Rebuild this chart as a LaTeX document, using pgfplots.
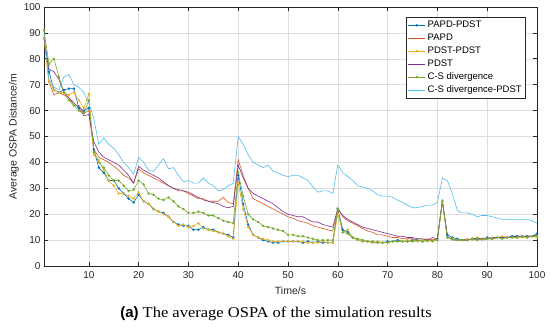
\documentclass[border=0pt]{standalone}
\usepackage{pgfplots}
\pgfplotsset{compat=1.18}
\usepackage{pgfplotstable}
\usepackage{fontspec}
\setmainfont{Liberation Sans}
\newfontfamily\capfont[FakeStretch=1.1]{Liberation Serif}
\newfontfamily\capsans{Liberation Sans}
\definecolor{mblue}{RGB}{0,114,189}
\definecolor{mred}{RGB}{217,83,25}
\definecolor{myellow}{RGB}{237,177,32}
\definecolor{mpurple}{RGB}{126,47,142}
\definecolor{mgreen}{RGB}{119,172,48}
\definecolor{mcyan}{RGB}{77,190,238}
\definecolor{axgray}{RGB}{38,38,38}
\definecolor{gridgray}{RGB}{222,222,222}
\pgfplotstableread{
t A B C D E F
1 88 88 88 88 91 90
2 75 71 71 76 78 72
3 68 66 68 75 80 69
4 67 67 67 72 73 68
5 68 66 67 67 67 73
6 68.5 65 66 65 64 74
7 68.5 62 67 63 62 70
8 61 62 64 61 60 69
9 60 59 61 58 59 67
10 61 60 66.5 58.5 64 63
11 45 45 43 48 44 57
12 38 42 41 44 40 47
13 36 41 37 42 38 49.5
14 33 40 33 41 35 47
15 33 38.5 31 40 33 45.5
16 30 37 28 39 33 43
17 28 35 28 37 31 40
18 26 34 27 35 29 38
19 24.5 32 26 32 29.5 35.5
20 27.5 37.5 28.5 38.5 33 42
21 25 36 25 37 31.5 40
22 24 35 24 36 28 37
23 22 34 22 35 27.5 36.5
24 21 33 21 34 26 39
25 20.5 32 20 32.5 25.5 41.5
26 19 31 19 31 26.5 37.5
27 17 30 17 30 25 38
28 16 29 15.5 29.5 23 35
29 15.5 29 16 29 22 32.5
30 15.5 28 15 28.5 20.5 33
31 14 27 15.5 27.5 20.5 32
32 14 26 16.5 26.5 21 32
33 15 26 14.5 25.5 20.5 34
34 14 25 14 25 19.5 32
35 14 25 13.5 24.5 19.5 31
36 13 25 13 24 18.5 29
37 12.5 26.5 12.5 23 17.5 29.5
38 12 24.5 11.5 22.5 17 31
39 11 24 10.5 23 16.5 32
40 35 41 32 39 36 50
41 24 35 22 34 27 47
42 16 30 15 30 20 43
43 12 26 12 28 18 40
44 11 25 11 27 17 39
45 10 24 10.5 26 15.5 38
46 9.5 23 10 25 15 39
47 9 22 9.5 24 14.5 36.5
48 9 21 9.5 22.5 14 36
49 9.5 20 9.5 21 13.5 35
50 9.5 19 9.5 20 12 34.5
51 9.5 18.5 9.5 19.5 12 35
52 9.5 17.5 9.5 19 11.5 35
53 9 17 9.5 19 11.5 34
54 9.5 16.5 9 18 11 33
55 9 15.5 9 17 10.5 30.5
56 9.5 15 9 17 10 28.5
57 9 14.5 9.5 16 10 29
58 9 14 9 15.5 10 29
59 9 13.5 9 15 10 28
60 22 22.5 20 22 22 39
61 14 19 13 19.5 13 36
62 13 17.5 14 18 12.5 34.5
63 11 16.5 11 17 11 33
64 10 15.5 10 16 10.5 31
65 9.5 14.5 9.5 15 10 30.5
66 9.5 13.5 9.5 14.5 9.5 30
67 9 13 9 14 9.5 29
68 9 12 9.5 13.5 9 27.5
69 9 12 9 13 9 27
70 9.5 11.5 9 12.5 9 27
71 9.5 11 9.5 12 9.5 26.5
72 10 11 9.5 11.5 9.5 25.5
73 9.5 10.5 9.5 11.5 9.5 24.5
74 9.5 10.5 10 11 9.5 23.5
75 10 10.5 9.5 11 9.5 22.5
76 10 10 9.5 10.5 10 22.5
77 9.5 10 10 10.5 9.5 23
78 10 10.5 9.5 10 10 23.5
79 10 10 10 11 9.5 23.5
80 10.5 10.5 10 10.5 10 24.5
81 25 25 25 25 25 34
82 12 11 11 11.5 11 33
83 11 10.5 10.5 10 10.5 28
84 10.5 10 10 10 10 21.5
85 10 10 10 10 10 20.5
86 10 10.5 10 10 10 20.5
87 10.5 10 10.5 10.5 10.5 20
88 10.5 10.5 11 10.5 10 19
89 10.5 10 10.5 10.5 10.5 19.5
90 11 10.5 10.5 10.5 10.5 19.5
91 10.5 10.5 11 11 10.5 19
92 11 11 11 11 11 18.5
93 11 11 11.5 11 10.5 18
94 11 11 11 11 11 18
95 11.5 11 11 11.5 11 18
96 11.5 11.5 11 11.5 11 18
97 11.5 11 11.5 11.5 11.5 18
98 11.5 11.5 11 11.5 11 18
99 11.5 11.5 11.5 11.5 11.5 17.5
100 12.5 11.5 11 12 11.5 16.5
}\data
\begin{document}
\begin{tikzpicture}
\useasboundingbox (-44pt,-62pt) rectangle (506pt,266pt);
\begin{axis}[
  scale only axis,
  width=493pt, height=259pt,
  xmin=1, xmax=100, ymin=0, ymax=100,
  xtick={10,20,...,100}, ytick={0,10,...,100},
  grid=major,
  grid style={gridgray, line width=0.5pt},
  axis line style={axgray, line width=0.6pt},
  tick style={axgray, line width=0.6pt},
  major tick length=4pt,
  tick align=inside,
  xtick pos=both, ytick pos=both,
  /pgf/number format/assume math mode=true,
  ticklabel style={font=\fontsize{10}{12}\selectfont, text=axgray},
  xticklabel style={yshift=-1.5pt},
  xlabel={Time/s}, ylabel={Average OSPA Distance/m},
  label style={font=\fontsize{10.5}{12}\selectfont, text=axgray},
  xlabel style={yshift=-2pt},
  ylabel style={yshift=-2pt},
  legend style={at={(1,1)}, anchor=north east, xshift=-11pt, yshift=-10pt,
    draw=axgray, line width=0.6pt, font=\fontsize{9.5}{11}\selectfont,
    row sep=0.8pt, inner sep=2pt},
  legend cell align=left,
  legend image post style={line width=0.6pt},
  every axis plot/.append style={line width=0.6pt},
  mark size=0.9pt,
]
\addplot[mblue, mark=*] table[x=t,y=A]{\data};
\addlegendentry{PAPD-PDST}
\addplot[mred] table[x=t,y=B]{\data};
\addlegendentry{PAPD}
\addplot[myellow, mark=*] table[x=t,y=C]{\data};
\addlegendentry{PDST-PDST}
\addplot[mpurple] table[x=t,y=D]{\data};
\addlegendentry{PDST}
\addplot[mgreen, mark=*] table[x=t,y=E]{\data};
\addlegendentry{C-S divergence}
\addplot[mcyan] table[x=t,y=F]{\data};
\addlegendentry{C-S divergence-PDST}
\end{axis}
\node[font=\capfont\fontsize{15}{17}\selectfont, anchor=base] at (232pt,-52pt) {{\capsans\bfseries (a)} The average OSPA of the simulation results};
\end{tikzpicture}
\end{document}
